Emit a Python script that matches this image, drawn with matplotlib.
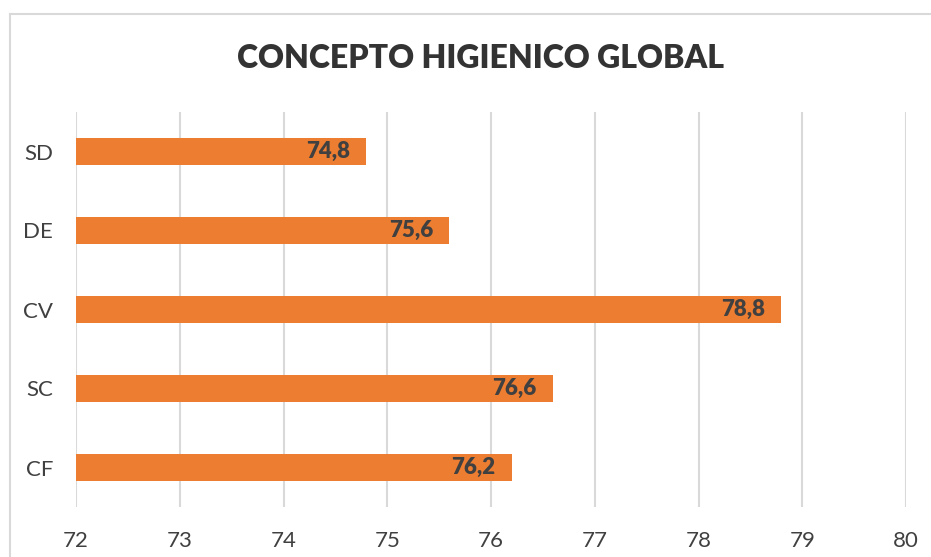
import matplotlib.pyplot as plt
from matplotlib.lines import Line2D

categories = ["CF", "SC", "CV", "DE", "SD"]
values = [76.2, 76.6, 78.8, 75.6, 74.8]
labels = ["76,2", "76,6", "78,8", "75,6", "74,8"]
xticks = [72, 73, 74, 75, 76, 77, 78, 79, 80]

plt.rcParams['font.family'] = ['Lato', 'DejaVu Sans']

fig = plt.figure(figsize=(9.31, 5.57), dpi=100)
ax = fig.add_axes([76 / 931, 1 - 507 / 557, 830 / 931, 395 / 557])

ax.barh(categories, [v - 72 for v in values], left=72, height=0.35,
        color="#ED7D31", zorder=3)
for i, (v, lab) in enumerate(zip(values, labels)):
    ax.text(v - 0.16, i, lab, ha="right", va="center", fontsize=16,
            fontweight="heavy", color="#404040", zorder=4)

ax.set_xlim(72, 80)
ax.set_ylim(-0.5, 4.5)
ax.set_xticks(xticks)
ax.set_xticklabels([str(x) for x in xticks])
ax.grid(axis="x", color="#d9d9d9", linewidth=1.5, zorder=0)
for s in ax.spines.values():
    s.set_visible(False)
ax.tick_params(axis="both", length=0, labelsize=16, colors="#404040")
ax.tick_params(axis="x", pad=17)
ax.tick_params(axis="y", pad=16.5)

fig.text(480 / 931, 1 - 58 / 557, "CONCEPTO HIGIENICO GLOBAL", ha="center",
         va="center", fontsize=23, fontweight="heavy", color="#333333")

# chart border (top and left visible)
fig.add_artist(Line2D([10 / 931, 10 / 931], [0, 1 - 14 / 557],
                      transform=fig.transFigure, color="#d9d9d9", linewidth=1.5))
fig.add_artist(Line2D([10 / 931, 1], [1 - 14 / 557, 1 - 14 / 557],
                      transform=fig.transFigure, color="#d9d9d9", linewidth=1.5))

fig.savefig("out.png", dpi=100)
